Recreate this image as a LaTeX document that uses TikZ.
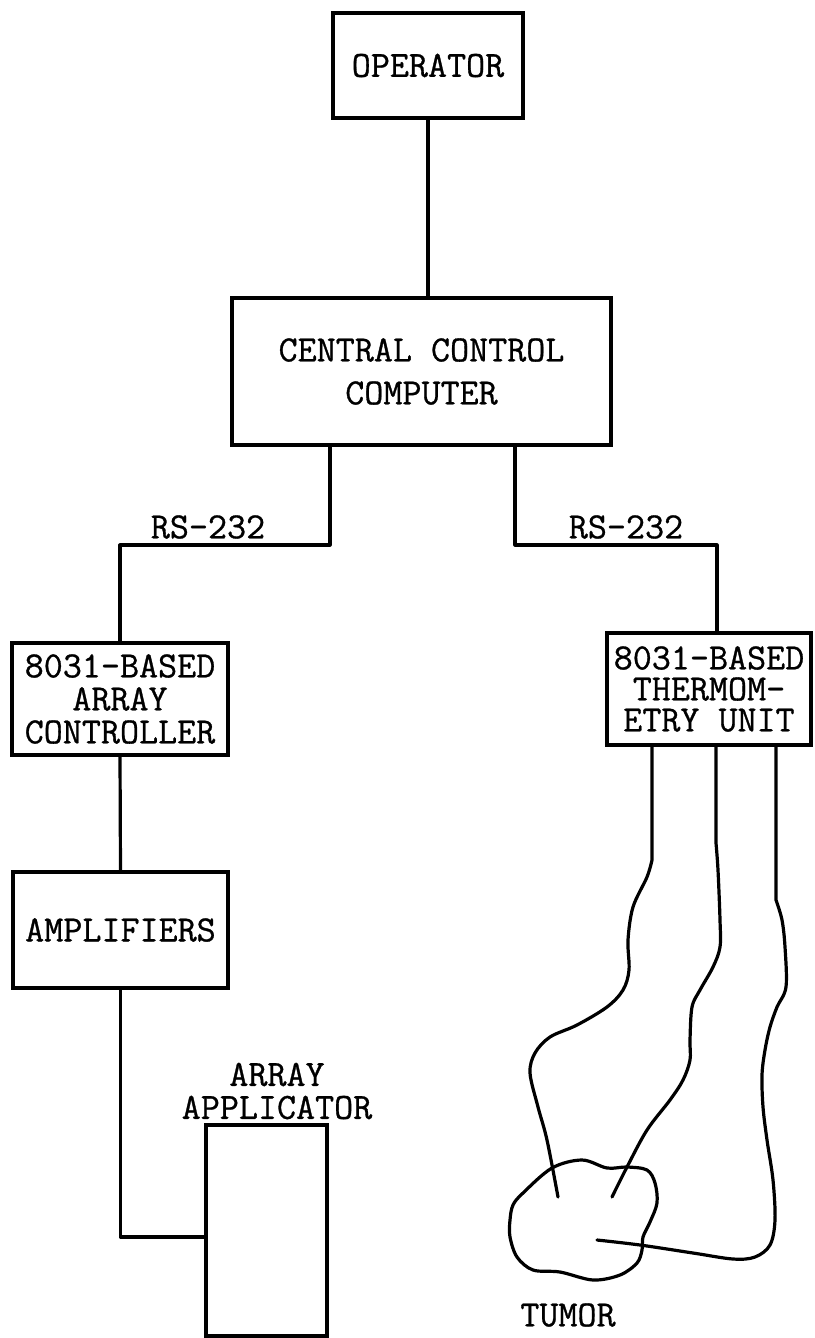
\documentclass[tikz,border=0pt]{standalone}
\usepackage{fontspec}
\newfontfamily\twfont{Latin Modern Mono}[FakeBold=0.8]
\usetikzlibrary{calc}
\tikzset{
  box/.style={draw, line width=3.2pt, inner sep=1pt, outer sep=0pt, align=center,
    font=\fontsize{37}{33}\selectfont\twfont},
  lbl/.style={inner sep=0pt, align=center, font=\fontsize{37}{33}\selectfont\twfont},
  wire/.style={line width=3.2pt, line cap=round, line join=round},
}
\begin{document}
\begin{tikzpicture}[x=1pt,y=-1pt]
\useasboundingbox (0,0) rectangle (814,1338);
% boxes
\node[box, minimum width=190, minimum height=105] (op) at (428,65.5) {OPERATOR};
\node[box, minimum width=379, minimum height=147, font=\fontsize{37}{43}\selectfont\twfont] (cc) at (421.5,371.5) {CENTRAL CONTROL\\COMPUTER};
\node[box, minimum width=216, minimum height=112] (lc) at (120,699) {8031-BASED\\ARRAY\\CONTROLLER};
\node[box, minimum width=204, minimum height=112, font=\fontsize{37}{31}\selectfont\twfont] (rc) at (709,689) {8031-BASED\\THERMOM-\\ETRY UNIT};
\node[box, minimum width=215, minimum height=116] (amp) at (120.5,930) {AMPLIFIERS};
\node[box, minimum width=121, minimum height=211] (app) at (266.5,1230.5) {};
% labels
\node[lbl] (rs1) at (208,527) {RS-232};
\node[lbl] (rs2) at (626,527) {RS-232};
\node[lbl] (appl) at (277,1091) {ARRAY\\APPLICATOR};
\node[lbl] (tum) at (568,1315) {TUMOR};
% junctions
\coordinate (j1) at (330,545);
\coordinate (j2) at (515,545);
\coordinate (j3) at (717,545);
\coordinate (j4) at (122,1237);
% connectors
\draw[wire] (op.south) -- (op.south |- cc.north);
\draw[wire] (j1 |- cc.south) -- (j1) -- (lc.north |- j1) -- (lc.north);
\draw[wire] (j2 |- cc.south) -- (j2) -- (j3) -- (j3 |- rc.north);
\draw[wire] (lc.south) -- (amp.north);
\draw[wire] (amp.south) -- (amp.south |- j4) -- (j4 -| app.west);
% probes
\draw[wire] ([xshift=-57pt]rc.south) -- plot[smooth, tension=0.55] coordinates {(652,860) (647,877) (633,907) (628,940) (629,970) (623,990) (607,1007) (577,1025) (550,1037) (535,1053) (530,1073) (538,1107) (547,1140) (558,1197)};
\draw[wire] ([xshift=7pt]rc.south) -- plot[smooth, tension=0.55] coordinates {(716,843) (718,870) (720,920) (720,947) (713,967) (700,990) (692,1007) (690,1040) (690,1060) (683,1080) (670,1100) (647,1130) (627,1167) (612,1197)};
\draw[wire] ([xshift=67pt]rc.south) -- plot[smooth, tension=0.55] coordinates {(776,900) (782,920) (785,947) (786,987) (777,1007) (770,1027) (765,1050) (762,1075) (763,1107) (767,1140) (773,1180) (775,1220) (770,1245) (755,1257) (733,1259) (693,1253) (640,1245) (597,1240)};
% tumor
\draw[wire] plot[smooth cycle, tension=0.55] coordinates {(510,1220) (513,1205) (523,1193) (552,1168) (582,1160) (607,1168) (627,1167) (647,1170) (655,1183) (657,1203) (650,1222) (643,1237) (642,1250) (637,1263) (620,1275) (593,1280) (560,1272) (533,1270) (517,1257) (510,1237)};
\end{tikzpicture}
\end{document}
